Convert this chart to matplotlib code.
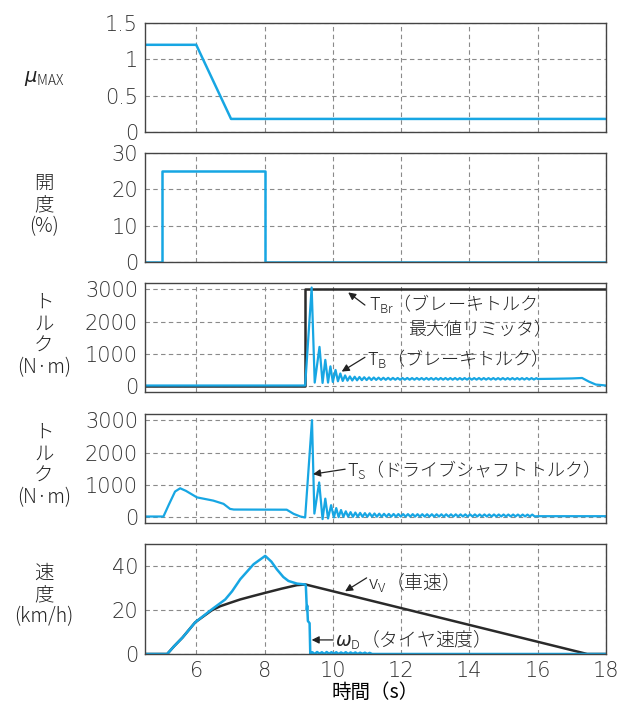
import numpy as np
import matplotlib
matplotlib.use("Agg")
import matplotlib.pyplot as plt

plt.rcParams['font.family'] = ['Noto Sans CJK JP', 'DejaVu Sans']
plt.rcParams['font.weight'] = 'light'
plt.rcParams['mathtext.fontset'] = 'custom'
plt.rcParams['mathtext.rm'] = 'Noto Sans CJK JP:weight=light'
plt.rcParams['mathtext.it'] = 'DejaVu Sans:italic'

BLUE = '#17a6e3'
DARK = '#2a2a2a'
GRID = '#8a8a8a'

# --- mu_MAX ---
mu_t = [4.5, 6.0, 7.02, 18.0]
mu_v = [1.2, 1.2, 0.18, 0.18]

# --- throttle opening (%) ---
open_t = [4.5, 5.0, 5.0, 8.0, 8.0, 18.0]
open_v = [0, 0, 25, 25, 0, 0]

# --- brake torque limiter T_Br ---
tbr_t = [4.5, 9.19, 9.19, 18.0]
tbr_v = [0, 0, 3000, 3000]

# --- brake torque T_B ---
tb_t = [4.5, 9.19, 9.38, 9.47, 9.61, 9.70, 9.78, 9.86, 9.93, 10.00, 10.08,
        10.15, 10.22, 10.29, 10.36, 10.43, 10.50]
tb_v = [30, 30, 3050, 120, 1220, 110, 820, 120, 620, 140, 510,
        160, 400, 170, 340, 180, 310]
tb_rip_start, rip_step = 10.57, 0.07
tb_rip_v = [185, 300, 190, 292, 195, 285, 198, 280, 200, 276,
            203, 272, 205, 268, 206, 266, 207, 264, 208, 262,
            208, 261, 209, 262, 208, 260, 209, 261, 210, 260,
            209, 261, 210, 260, 209, 259, 210, 260, 211, 260,
            210, 259, 211, 260, 210, 259, 211, 259, 212, 260,
            211, 259, 212, 260, 211, 259, 212, 258, 213, 259,
            212, 258, 213, 259, 212, 258, 213, 259, 214, 258,
            213, 258, 214, 259, 213, 258, 214, 257]
tb_end_t = [16.0, 16.5, 17.0, 17.3, 17.5, 17.7, 18.0]
tb_end_v = [232, 238, 248, 262, 150, 60, 30]

# --- drive shaft torque T_S ---
ts_t = [4.5, 5.04, 5.2, 5.38, 5.53, 5.7, 6.02, 6.5, 6.8, 6.99, 7.1, 8.65,
        8.85, 9.05, 9.19, 9.39, 9.46, 9.60, 9.70, 9.78, 9.86, 9.95, 10.03,
        10.10, 10.17, 10.24, 10.31, 10.38, 10.45]
ts_v = [30, 30, 400, 800, 900, 820, 620, 520, 420, 265, 245, 240,
        113, 30, 0, 3000, 120, 1080, -50, 580, -30, 380, 0,
        290, 10, 230, 20, 190, 25]
ts_rip_start = 10.52
ts_rip_v = [165, 20, 152, 22, 142, 22, 134, 23, 128, 24,
            122, 24, 118, 25, 114, 25, 110, 26, 108, 26,
            106, 26, 105, 27, 104, 27, 103, 27, 102, 28,
            101, 28, 100, 28, 100, 28, 99, 29, 98, 29,
            98, 29, 97, 29, 97, 30, 96, 30, 96, 30,
            95, 30, 95, 31, 94, 31, 94, 31, 93, 31,
            93, 32, 92, 32, 92, 32, 91, 32, 91, 33,
            90, 33, 90, 33, 89, 34, 89, 34]
ts_end_t = [16.0, 18.0]
ts_end_v = [40, 40]

# --- vehicle speed v_V (km/h) ---
vv_t = [4.5, 5.15, 5.35, 5.6, 5.97, 6.45, 6.7, 7.0, 7.29, 7.65, 8.02,
        8.5, 8.95, 9.2, 17.45, 18.0]
vv_v = [0, 0, 3.5, 7.5, 14.4, 19.8, 21.7, 23.3, 24.8, 26.3, 27.8,
        29.7, 31.3, 31.6, 0, 0]

# --- tyre speed omega_D (km/h) ---
wd_t = [4.5, 5.15, 5.35, 5.6, 5.97, 6.45, 6.85, 7.05, 7.29, 7.68, 8.02,
        8.2, 8.36, 8.55, 8.70, 8.95, 9.19, 9.21, 9.24, 9.25, 9.27, 9.32,
        9.34]
wd_v = [0, 0, 3.5, 7.5, 14.4, 20.2, 24.8, 28.5, 34.0, 40.8, 44.6,
        42.0, 38.5, 35.0, 33.2, 32.0, 31.6, 31.0, 20.0, 22.0, 15.0, 14.0,
        0]
wd_rip_start = 9.40
wd_rip_v = [0.8, 0.0, 0.9, 0.1, 0.8, 0.0, 0.9, 0.1, 0.8, 0.1,
            0.8, 0.0, 0.7, 0.1, 0.8, 0.0, 0.7, 0.1, 0.7, 0.0,
            0.6, 0.1, 0.6, 0.0, 0.5, 0.0]
wd_end_t = [11.2, 18.0]
wd_end_v = [0, 0]

x_ticks = [6, 8, 10, 12, 14, 16, 18]


def with_ripple(t, v, start, rip, end_t, end_v):
    rt = start + rip_step * np.arange(len(rip))
    return (np.concatenate([t, rt, end_t]),
            np.concatenate([v, rip, end_v]))


fig = plt.figure(figsize=(6.24, 7.11), dpi=100)
W, H = 624.0, 711.0
left, right = 145, 606
tops = [23, 153, 283, 414, 544]
bottoms = [132, 262, 392, 523, 654]
axes = [fig.add_axes([left / W, 1 - b / H, (right - left) / W, (b - t) / H])
        for t, b in zip(tops, bottoms)]
ax1, ax2, ax3, ax4, ax5 = axes

ax1.plot(mu_t, mu_v, color=BLUE, lw=1.8)
ax1.set_ylim(0, 1.5)
ax1.set_yticks([0, 0.5, 1, 1.5], ['0', '0.5', '1', '1.5'])

ax2.plot(open_t, open_v, color=BLUE, lw=1.8)
ax2.set_ylim(0, 30)
ax2.set_yticks([0, 10, 20, 30], ['0', '10', '20', '30'])

ax3.plot(tbr_t, tbr_v, color=DARK, lw=1.8)
t3, v3 = with_ripple(tb_t, tb_v, tb_rip_start, tb_rip_v, tb_end_t, tb_end_v)
ax3.plot(t3, v3, color=BLUE, lw=1.6)
ax3.set_ylim(-170, 3190)
ax3.set_yticks([0, 1000, 2000, 3000], ['0', '1000', '2000', '3000'])

t4, v4 = with_ripple(ts_t, ts_v, ts_rip_start, ts_rip_v, ts_end_t, ts_end_v)
ax4.plot(t4, v4, color=BLUE, lw=1.6)
ax4.set_ylim(-170, 3190)
ax4.set_yticks([0, 1000, 2000, 3000], ['0', '1000', '2000', '3000'])

ax5.plot(vv_t, vv_v, color=DARK, lw=1.8)
t5, v5 = with_ripple(wd_t, wd_v, wd_rip_start, wd_rip_v, wd_end_t, wd_end_v)
ax5.plot(t5, v5, color=BLUE, lw=1.8)
ax5.set_ylim(0, 50)
ax5.set_yticks([0, 20, 40], ['0', '20', '40'])
ax5.set_xlabel('時間（s）', fontsize=14, labelpad=1)

for ax in axes:
    ax.set_xlim(4.5, 18)
    ax.set_xticks(x_ticks, [str(v) for v in x_ticks])
    ax.grid(True, color=GRID, linestyle=(0, (4, 3)), linewidth=0.8)
    ax.tick_params(length=0, labelsize=15, colors='#333333', pad=5)
    for lab in ax.get_xticklabels() + ax.get_yticklabels():
        lab.set_family('DejaVu Sans')
        lab.set_weight('light')
    for s in ax.spines.values():
        s.set_color('#444444')
        s.set_linewidth(1.0)
    ax.set_axisbelow(True)
for ax in axes[:-1]:
    ax.tick_params(labelbottom=False)

# left-hand axis captions
lab_x = 44 / W
lab_kw = dict(ha='center', va='center', fontsize=14, linespacing=1.05,
              color='#222222')
fig.text(lab_x, 1 - 78 / H, r'$\mu_{\mathrm{MAX}}$', ha='center', va='center',
         fontsize=14, color='#222222')
fig.text(lab_x, 1 - 205 / H, '開\n度\n(%)', **lab_kw)
fig.text(lab_x, 1 - 335 / H, 'ト\nル\nク\n(N·m)', **lab_kw)
fig.text(lab_x, 1 - 465 / H, 'ト\nル\nク\n(N·m)', **lab_kw)
fig.text(lab_x, 1 - 595 / H, '速\n度\n(km/h)', **lab_kw)

arrow_kw = dict(arrowstyle='-|>', color='#222222', lw=0.9,
                mutation_scale=11, shrinkA=0, shrinkB=0)
txt_kw = dict(fontsize=13, ha='left', va='center', color='#222222')

ax3.annotate('', xy=(10.45, 2900), xytext=(10.94, 2510), arrowprops=arrow_kw)
ax3.text(11.05, 2560, r'T$_{\mathrm{Br}}$（ブレーキトルク', **txt_kw)
ax3.text(12.2, 1745, '最大値リミッタ）', **txt_kw)
ax3.annotate('', xy=(10.26, 460), xytext=(10.94, 900), arrowprops=arrow_kw)
ax3.text(11.0, 870, r'T$_{\mathrm{B}}$（ブレーキトルク）', **txt_kw)

ax4.annotate('', xy=(9.42, 1336), xytext=(10.36, 1489), arrowprops=arrow_kw)
ax4.text(10.43, 1490, r'T$_{\mathrm{S}}$（ドライブシャフトトルク）', **txt_kw)

ax5.annotate('', xy=(10.36, 28.5), xytext=(10.99, 34.6), arrowprops=arrow_kw)
ax5.text(11.03, 32.4, r'v$_{\mathrm{V}}$（車速）', fontsize=13.5, ha='left',
         va='center', color='#222222')
ax5.annotate('', xy=(9.38, 6.4), xytext=(10.01, 6.4), arrowprops=arrow_kw)
ax5.text(10.05, 6.4, r'$\omega_{\mathrm{D}}$（タイヤ速度）', fontsize=13.5,
         ha='left', va='center', color='#222222')

fig.savefig('out.png', dpi=100)
